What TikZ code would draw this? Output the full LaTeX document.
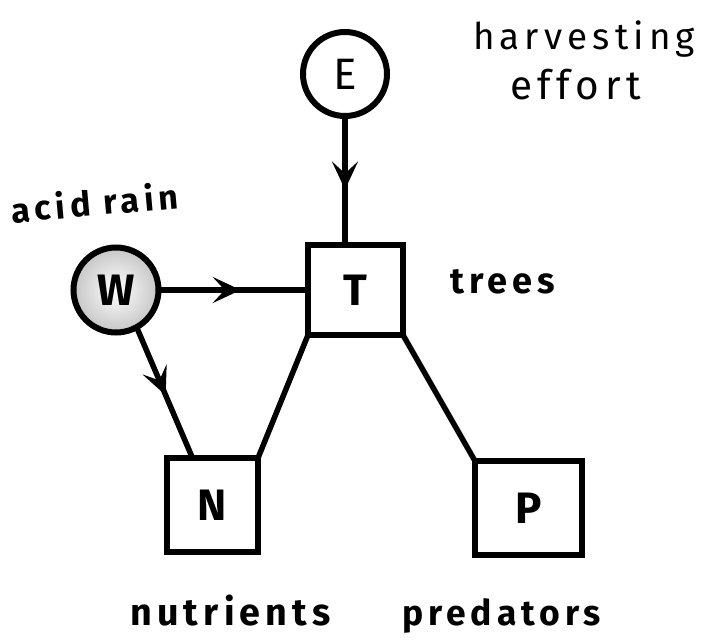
\documentclass[tikz,border=0pt]{standalone}
\usepackage{fontspec}
\usepackage{graphicx}
\usetikzlibrary{arrows.meta,decorations.markings,calc}
\newfontfamily\hand[LetterSpace=14]{Fira Sans}
\newcommand{\fitw}[2]{\resizebox{#1pt}{!}{\hand #2}}
\newcommand{\fitwb}[2]{\resizebox{#1pt}{!}{\hand\bfseries #2}}
\begin{document}
\begin{tikzpicture}[x=1pt,y=-1pt,
  ink/.style={line width=5.5pt, draw=black},
  boxnode/.style={draw=black,line width=6pt,rectangle,inner sep=0pt,outer sep=0pt,font=\hand\bfseries\fontsize{44}{44}\selectfont},
  circnode/.style={draw=black,line width=6pt,circle,inner sep=0pt,outer sep=0pt,minimum size=84pt,font=\hand\fontsize{44}{44}\selectfont},
  lbl/.style={anchor=base west,inner sep=0pt,outer sep=0pt},
  midarrow/.style={postaction={decorate},decoration={markings,mark=at position #1 with {\arrow{Stealth[length=28pt,width=26pt,inset=12pt]}}}}
]
\useasboundingbox[fill=white] (0,0) rectangle (705,642);

% nodes
\node[circnode] (E) at (345,74) {E};
\node[circnode,minimum size=85pt,inner color=white,outer color=gray!45] (W) at (116,290) {\bfseries W};
\node[boxnode,minimum width=95pt,minimum height=90pt] (T) at (355.5,290) {T};
\node[boxnode,minimum width=91pt,minimum height=94pt] (N) at (212.5,505) {N};
\node[boxnode,minimum width=107pt,minimum height=94pt] (P) at (528.5,508) {P};

% connectors
\draw[ink,midarrow=0.57] (E.south) -- (E.south |- T.north);
\draw[ink,midarrow=0.55] (W.east) -- (W.east -| T.west);
\coordinate (Ntop) at ($(N.north west)!0.28!(N.north east)$);
\draw[ink,midarrow=0.52] (W.-61) -- (Ntop);
\draw[ink] (T.south west) -- (N.north east);
\draw[ink] (T.south east) -- (P.north west);

% labels
\node[lbl] (lharv) at (473,50) {\fitw{222}{harvesting}};
\node[lbl] (leff) at (510,100) {\fitw{131}{effort}};
\node[lbl,rotate=5] (lacid) at (12,223) {\fitwb{168}{acid rain}};
\node[lbl] (ltrees) at (450,293) {\fitwb{105}{trees}};
\node[lbl] (lnut) at (130,625) {\fitwb{201}{nutrients}};
\node[lbl] (lpred) at (402,625) {\fitwb{199}{predators}};
\end{tikzpicture}
\end{document}
